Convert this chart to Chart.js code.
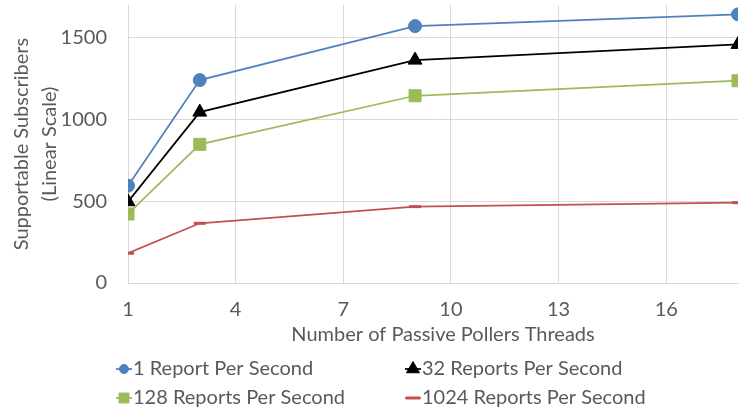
<!DOCTYPE html>
<html>
<head>
<meta charset="utf-8">
<title>Supportable Subscribers vs Passive Pollers Threads</title>
<script src="https://cdn.jsdelivr.net/npm/chart.js@4.4.1/dist/chart.umd.min.js"></script>
<style>
  html, body { margin: 0; padding: 0; background: #ffffff; }
  #wrap { width: 740px; height: 411px; }
</style>
</head>
<body>
<div id="wrap"><canvas id="chart" width="740" height="411"></canvas></div>
<script>
// Number of passive poller threads (x values)
const threads = [1, 3, 9, 18];

// Supportable subscribers for each reporting rate
const rate1 = [595, 1241, 1571, 1643];
const rate32 = [497, 1045, 1363, 1459];
const rate128 = [422, 848, 1145, 1237];
const rate1024 = [182, 365, 467, 491];

const seriesNames = [
  '1 Report Per Second',
  '32 Reports Per Second',
  '128 Reports Per Second',
  '1024 Reports Per Second'
];

const xTickValues = [1, 4, 7, 10, 13, 16];
const yTickValues = [0, 500, 1000, 1500];

const xTitle = 'Number of Passive Pollers Threads';
const yTitle = ['Supportable Subscribers', '(Linear Scale)'];

const FONT = 'Lato, "Open Sans", sans-serif';
const FONT_SIZE = 20;
const TEXT = '#595959';
const GRID = '#d9d9d9';

function toPoints(ys) {
  return threads.map((x, i) => ({ x: x, y: ys[i] }));
}

const seriesStyle = [
  { color: '#4f81bd', pointStyle: 'circle',   radius: 6.5, pointBorderWidth: 1, legendRadius: 4.5 },
  { color: '#000000', pointStyle: 'triangle', radius: 8,   pointBorderWidth: 1, legendRadius: 7.5 },
  { color: '#9bbb59', pointStyle: 'rect',     radius: 8.5, pointBorderWidth: 1, legendRadius: 7 },
  { color: '#c0504d', pointStyle: 'line',     radius: 6,   pointBorderWidth: 3, legendRadius: 7 }
];

const seriesValues = [rate1, rate32, rate128, rate1024];

const datasets = seriesValues.map((vals, i) => {
  const s = seriesStyle[i];
  return {
    label: seriesNames[i],
    data: toPoints(vals),
    borderColor: s.color,
    backgroundColor: s.color,
    borderWidth: 1.75,
    tension: 0,
    pointStyle: s.pointStyle,
    pointRadius: s.radius,
    pointHoverRadius: s.radius,
    pointBackgroundColor: s.color,
    pointBorderColor: s.color,
    pointBorderWidth: s.pointBorderWidth,
    legendRadius: s.legendRadius
  };
});

// X-axis title and a two-column legend underneath the plot
const bottomBlock = {
  id: 'bottomBlock',
  afterDraw(chart) {
    const ctx = chart.ctx;
    ctx.save();
    ctx.fillStyle = TEXT;
    ctx.font = FONT_SIZE + 'px ' + FONT;
    ctx.textAlign = 'center';
    ctx.textBaseline = 'middle';
    ctx.fillText(xTitle, 443, 335);
    ctx.restore();

    const cols = [124, 413];
    const rows = [369, 398];
    chart.data.datasets.forEach((ds, i) => {
      const cx = cols[i % 2];
      const cy = rows[Math.floor(i / 2)];
      ctx.save();
      ctx.strokeStyle = ds.borderColor;
      ctx.fillStyle = ds.borderColor;
      ctx.lineWidth = 1.75;
      ctx.beginPath();
      ctx.moveTo(cx - 8, cy);
      ctx.lineTo(cx + 8, cy);
      ctx.stroke();
      ctx.lineWidth = ds.pointBorderWidth;
      Chart.helpers.drawPoint(ctx, {
        pointStyle: ds.pointStyle,
        radius: ds.legendRadius,
        borderWidth: ds.pointBorderWidth,
        rotation: 0
      }, cx, cy);
      ctx.fillStyle = TEXT;
      ctx.font = FONT_SIZE + 'px ' + FONT;
      ctx.textAlign = 'left';
      ctx.textBaseline = 'middle';
      ctx.fillText(ds.label, cx + 9, cy);
      ctx.restore();
    });
  }
};

new Chart(document.getElementById('chart'), {
  type: 'line',
  data: { datasets: datasets },
  plugins: [bottomBlock],
  options: {
    responsive: false,
    animation: false,
    events: [],
    layout: { autoPadding: false, padding: { left: 0, right: 2, top: 5, bottom: 0 } },
    plugins: {
      legend: { display: false },
      tooltip: { enabled: false }
    },
    scales: {
      x: {
        type: 'linear',
        min: 1,
        max: 18,
        afterBuildTicks: (scale) => { scale.ticks = xTickValues.map(v => ({ value: v })); },
        afterFit: (scale) => {
          scale.height = 128;
          scale.paddingLeft = 0;
          scale.paddingRight = 0;
        },
        grid: { color: GRID, lineWidth: 1, drawTicks: false },
        border: { color: GRID, width: 1 },
        ticks: {
          padding: 15,
          color: TEXT,
          maxRotation: 0,
          autoSkip: false,
          callback: (v) => String(v),
          font: { family: FONT, size: FONT_SIZE }
        },
        title: { display: false }
      },
      y: {
        type: 'linear',
        min: 0,
        max: 1700,
        afterBuildTicks: (scale) => { scale.ticks = yTickValues.map(v => ({ value: v })); },
        afterFit: (scale) => {
          scale.width = 128;
          scale.paddingTop = 0;
          scale.paddingBottom = 0;
        },
        grid: { color: GRID, lineWidth: 1, drawTicks: false },
        border: { color: GRID, width: 1 },
        ticks: {
          padding: 21,
          color: TEXT,
          callback: (v) => String(v),
          font: { family: FONT, size: FONT_SIZE }
        },
        title: {
          display: true,
          text: yTitle,
          color: TEXT,
          font: { family: FONT, size: FONT_SIZE, lineHeight: '28px' },
          padding: { top: 8, bottom: 0 }
        }
      }
    }
  }
});
</script>
</body>
</html>
